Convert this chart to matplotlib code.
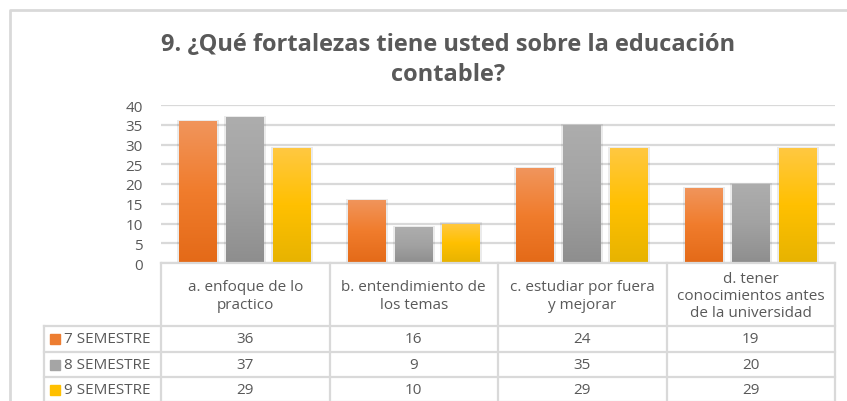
import numpy as np
import matplotlib
matplotlib.use("Agg")
import matplotlib.pyplot as plt
from matplotlib.colors import LinearSegmentedColormap
from matplotlib.lines import Line2D
from matplotlib.patches import Rectangle

plt.rcParams['font.family'] = ['Open Sans', 'DejaVu Sans']

# data
categories = ["a. enfoque de lo\npractico",
              "b. entendimiento de\nlos temas",
              "c. estudiar por fuera\ny mejorar",
              "d. tener\nconocimientos antes\nde la universidad"]
series_names = ["7 SEMESTRE", "8 SEMESTRE", "9 SEMESTRE"]
sem7 = [36, 16, 24, 19]
sem8 = [37, 9, 35, 20]
sem9 = [29, 10, 29, 29]
values = [sem7, sem8, sem9]

# flat colours (legend) and gradient top/mid/bottom for the bars
flat = ['#ED7D31', '#A5A5A5', '#FFC000']
grads = [['#F1955C', '#F07C2C', '#E46A18'],
         ['#ADADAD', '#A2A2A2', '#8E8E8E'],
         ['#FFC841', '#FFC000', '#E7B300']]
txt = '#595959'
line_c = '#D9D9D9'

W, H = 847, 402
L, R, T, B = 161, 835, 106, 264

fig = plt.figure(figsize=(W / 100, H / 100), dpi=100)

# overlay for border + data table, in pixel coords
ov = fig.add_axes([0, 0, 1, 1])
ov.set_xlim(0, W)
ov.set_ylim(H, 0)
ov.axis('off')

ax = fig.add_axes([L / W, 1 - B / H, (R - L) / W, (B - T) / H])
ax.set_yticks(range(0, 45, 5))
ax.set_xticks([])
ax.yaxis.grid(True, color=line_c, lw=1.6)
ax.set_axisbelow(True)
for s in ['top', 'right', 'left']:
    ax.spines[s].set_visible(False)
ax.spines['bottom'].set_color(line_c)
ax.spines['bottom'].set_linewidth(1.6)
ax.tick_params(axis='y', length=0, labelcolor=txt, labelsize=11, pad=13)
ax.patch.set_alpha(0)

x = np.arange(len(categories))
off = 0.28
bw = 0.225
for i, vals in enumerate(values):
    bars = ax.bar(x + (i - 1) * off, vals, bw, color=flat[i], zorder=2)
    cmap = LinearSegmentedColormap.from_list('g%d' % i, grads[i][::-1])
    grad = np.linspace(0, 1, 100).reshape(-1, 1)
    for b in bars:
        bx = b.get_x()
        # soft shadow
        ax.add_patch(Rectangle((bx - 0.012, 0), b.get_width() + 0.024, b.get_height() + 0.3,
                               color='#000000', alpha=0.08, lw=0, zorder=1.5))
        im = ax.imshow(grad, extent=(bx, bx + b.get_width(), 0, b.get_height()),
                       origin='lower', cmap=cmap, aspect='auto', zorder=2.5)
        im.set_clip_path(b)
ax.set_xlim(-0.5, len(categories) - 0.5)
ax.set_ylim(0, 40)

# title
fig.text(448 / W, 1 - 60 / H, "9. ¿Qué fortalezas tiene usted sobre la educación\ncontable?",
         ha='center', va='center', fontsize=17, fontweight='bold', color=txt,
         linespacing=1.38)

# chart border
ov.add_line(Line2D([9.5, 9.5, W], [H, 11, 11], color=line_c, lw=2))

# data table
colw = (R - L) / len(categories)
xs = [L + k * colw for k in range(len(categories) + 1)]
rows_y = [B, 327, 353, 378, 403]
leg_l = 44
for y in rows_y[1:]:
    ov.add_line(Line2D([leg_l, R], [y, y], color=line_c, lw=1.6))
ov.add_line(Line2D([leg_l, leg_l], [rows_y[1], H], color=line_c, lw=1.6))
for xv in xs:
    ov.add_line(Line2D([xv, xv], [B, H], color=line_c, lw=1.6))

for k, cat in enumerate(categories):
    cx = (xs[k] + xs[k + 1]) / 2
    ov.text(cx, (rows_y[0] + rows_y[1]) / 2 + 1, cat, ha='center', va='center',
            fontsize=11, color=txt, linespacing=1.2)
    for i, vals in enumerate(values):
        cy = (rows_y[i + 1] + rows_y[i + 2]) / 2
        ov.text(cx, cy, str(vals[k]), ha='center', va='center', fontsize=11, color=txt)

for i, name in enumerate(series_names):
    cy = (rows_y[i + 1] + rows_y[i + 2]) / 2
    ov.add_patch(Rectangle((50, cy - 5), 10, 10, color=flat[i]))
    ov.text(64, cy, name, ha='left', va='center', fontsize=11, color=txt)

fig.savefig('out.png', dpi=100)
